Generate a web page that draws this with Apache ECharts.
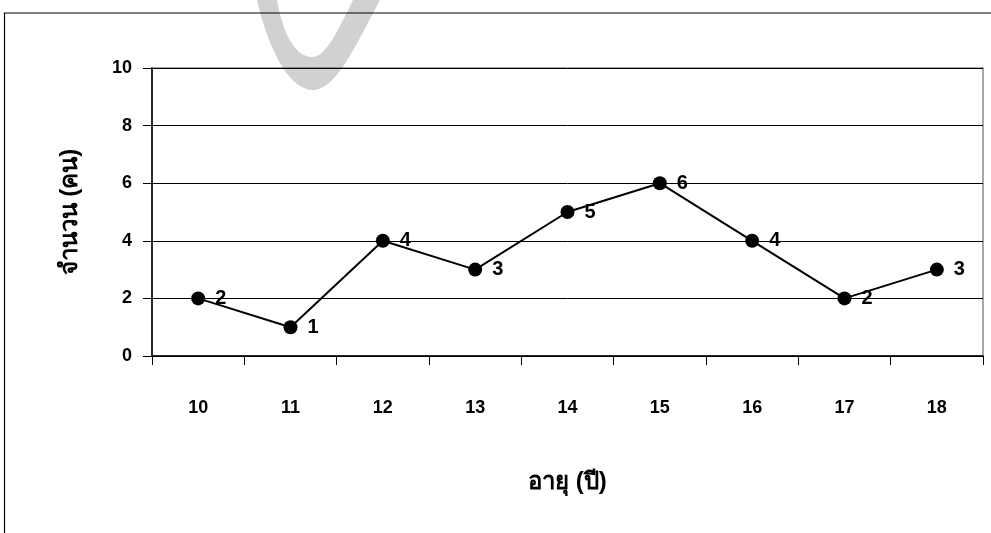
<!DOCTYPE html>
<html>
<head>
<meta charset="utf-8">
<script src="https://cdn.jsdelivr.net/npm/echarts@6/dist/echarts.min.js"></script>
<style>html,body{margin:0;padding:0;background:#fff}#c{width:991px;height:533px}</style>
</head>
<body>
<div id="c"></div>
<script>
const categories = ['10','11','12','13','14','15','16','17','18'];
const counts = [2,1,4,3,5,6,4,2,3];
const yTicks = [0,2,4,6,8,10];
const xName = 'อายุ (ปี)';
const yName = 'จำนวน (คน)';

function bez(p0,p1,p2,p3,n){
  const out=[];
  for(let i=0;i<=n;i++){const t=i/n,u=1-t;
    out.push([u*u*u*p0[0]+3*u*u*t*p1[0]+3*u*t*t*p2[0]+t*t*t*p3[0],
              u*u*u*p0[1]+3*u*u*t*p1[1]+3*u*t*t*p2[1]+t*t*t*p3[1]]);}
  return out;
}
const markPts = [].concat(
  bez([257,0],[266,40],[286,90],[313,90],20),
  bez([313,90],[336,90],[356,45],[380,0],20),
  bez([353,0],[338,30],[326,57],[312,57],20),
  bez([312,57],[296,57],[283,35],[277,0],20)
);

const chart = echarts.init(document.getElementById('c'), null, {renderer:'canvas'});
const font = 'Liberation Sans, Arial, sans-serif';
chart.setOption({
  animation: false,
  backgroundColor: '#fff',
  grid: {left:152, right:8, top:68, bottom:177, show:true, borderColor:'#8a8a8a', borderWidth:1.5, backgroundColor:'transparent'},
  xAxis: {
    type:'category', data: categories, boundaryGap:true,
    axisLine:{show:true, lineStyle:{color:'#000', width:1.5}},
    axisTick:{show:true, length:9, lineStyle:{color:'#000'}},
    axisLabel:{margin:43, color:'#000', fontWeight:'bold', fontSize:18, fontFamily:font},
    name: xName, nameLocation:'middle', nameGap:114,
    nameTextStyle:{color:'#000', fontWeight:'bold', fontSize:24, fontFamily:font}
  },
  yAxis: {
    type:'value', min:yTicks[0], max:yTicks[yTicks.length-1], interval:2,
    axisLine:{show:true, lineStyle:{color:'#000', width:1.5}},
    axisTick:{show:true, length:9, lineStyle:{color:'#000'}},
    splitLine:{show:true, lineStyle:{color:'#000', width:1}},
    axisLabel:{margin:20, color:'#000', fontWeight:'bold', fontSize:18, fontFamily:font},
    name: yName, nameLocation:'middle', nameGap:70, nameRotate:90,
    nameTextStyle:{color:'#000', fontWeight:'bold', fontSize:24, fontFamily:font}
  },
  series: [{
    type:'line', data: counts,
    symbol:'circle', symbolSize:14,
    itemStyle:{color:'#000'},
    lineStyle:{color:'#000', width:2},
    label:{show:true, position:'right', distance:10, color:'#000', fontWeight:'bold', fontSize:20, fontFamily:font}
  }],
  graphic: [
    {type:'rect', shape:{x:4.5, y:13, width:1000, height:600}, style:{fill:'none', stroke:'#000', lineWidth:1.2}, z:10},
    {type:'polygon', z:100, shape:{points: markPts}, style:{fill:'rgba(0,0,0,0.18)'}}
  ]
});
</script>
</body>
</html>
